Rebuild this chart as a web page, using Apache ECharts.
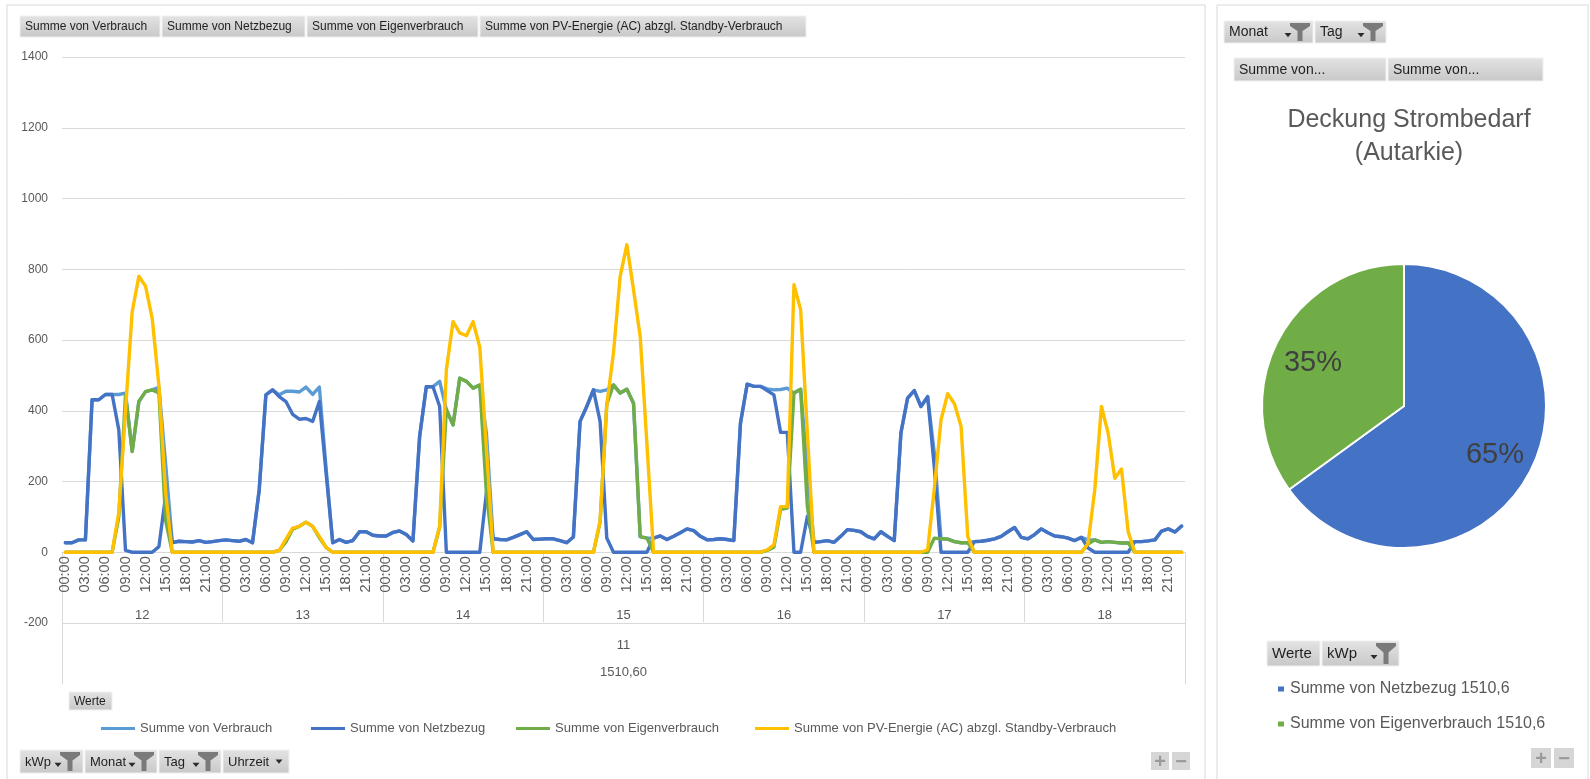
<!DOCTYPE html>
<html>
<head>
<meta charset="utf-8">
<script src="https://cdn.jsdelivr.net/npm/echarts@6/dist/echarts.min.js"></script>
<style>
  html, body { margin: 0; padding: 0; background: #ffffff; }
  #main { width: 1590px; height: 779px; }
</style>
</head>
<body>
<div id="main"></div>
<script>
// ---- data -------------------------------------------------------------
const days = ['12', '13', '14', '15', '16', '17', '18'];
const hours = ['00:00', '01:00', '02:00', '03:00', '04:00', '05:00', '06:00', '07:00',
               '08:00', '09:00', '10:00', '11:00', '12:00', '13:00', '14:00', '15:00',
               '16:00', '17:00', '18:00', '19:00', '20:00', '21:00', '22:00', '23:00'];
const monthLabel = '11';
const kwpLabel = '1510,60';
const yTicks = [-200, 0, 200, 400, 600, 800, 1000, 1200, 1400];

const seriesNames = [
  'Summe von Verbrauch',
  'Summe von Netzbezug',
  'Summe von Eigenverbrauch',
  'Summe von PV-Energie (AC) abzgl. Standby-Verbrauch'
];

// hourly values, one row per day (12 .. 18)
const verbrauch = [
  27, 27, 35, 35, 431, 431, 446, 446, 446, 450, 285, 426, 454, 459, 466, 250, 27, 31, 30, 29, 33, 28, 30, 33,
  35, 33, 31, 36, 27, 176, 445, 459, 445, 455, 455, 453, 467, 446, 467, 239, 27, 36, 28, 33, 58, 58, 48, 46,
  46, 56, 60, 50, 32, 327, 468, 468, 483, 403, 360, 492, 483, 464, 473, 335, 38, 36, 35, 42, 50, 58, 36, 37,
  38, 38, 33, 27, 43, 370, 412, 459, 455, 459, 473, 450, 461, 421, 44, 40, 40, 46, 36, 45, 55, 66, 61, 45,
  35, 36, 38, 36, 33, 365, 475, 469, 469, 462, 459, 460, 464, 450, 461, 231, 28, 30, 33, 28, 45, 64, 62, 58,
  45, 38, 58, 45, 33, 337, 436, 457, 412, 440, 280, 38, 37, 30, 27, 27, 30, 31, 34, 38, 45, 58, 70, 42,
  38, 50, 66, 55, 46, 44, 40, 33, 42, 35, 35, 28, 30, 28, 26, 26, 30, 30, 32, 35, 60, 66, 57, 74
];
const netzbezug = [
  27, 27, 35, 35, 431, 431, 446, 446, 346, 5, 0, 0, 0, 0, 16, 160, 27, 31, 30, 29, 33, 28, 30, 33,
  35, 33, 31, 36, 27, 176, 445, 459, 440, 426, 390, 376, 378, 370, 426, 225, 27, 36, 28, 33, 58, 58, 48, 46,
  46, 56, 60, 50, 32, 327, 468, 468, 412, 0, 0, 0, 0, 0, 0, 170, 38, 36, 35, 42, 50, 58, 36, 37,
  38, 38, 33, 27, 43, 370, 412, 459, 370, 40, 0, 0, 0, 0, 0, 0, 40, 46, 36, 45, 55, 66, 61, 45,
  35, 36, 38, 36, 33, 365, 475, 469, 469, 457, 445, 339, 339, 0, 0, 101, 28, 30, 33, 28, 45, 64, 62, 58,
  45, 38, 58, 45, 33, 337, 436, 457, 412, 440, 240, 0, 0, 0, 0, 0, 30, 31, 34, 38, 45, 58, 70, 42,
  38, 50, 66, 55, 46, 44, 40, 33, 42, 12, 0, 0, 0, 0, 0, 0, 30, 30, 32, 35, 60, 66, 57, 74
];
const eigenverbrauch = [
  0, 0, 0, 0, 0, 0, 0, 0, 100, 445, 285, 426, 454, 459, 450, 90, 0, 0, 0, 0, 0, 0, 0, 0,
  0, 0, 0, 0, 0, 0, 0, 0, 5, 29, 65, 73, 85, 73, 41, 14, 0, 0, 0, 0, 0, 0, 0, 0,
  0, 0, 0, 0, 0, 0, 0, 0, 71, 403, 360, 492, 483, 464, 473, 165, 0, 0, 0, 0, 0, 0, 0, 0,
  0, 0, 0, 0, 0, 0, 0, 0, 85, 419, 473, 450, 461, 421, 44, 40, 0, 0, 0, 0, 0, 0, 0, 0,
  0, 0, 0, 0, 0, 0, 0, 0, 0, 5, 14, 121, 125, 450, 461, 130, 0, 0, 0, 0, 0, 0, 0, 0,
  0, 0, 0, 0, 0, 0, 0, 0, 0, 0, 40, 38, 37, 30, 27, 27, 0, 0, 0, 0, 0, 0, 0, 0,
  0, 0, 0, 0, 0, 0, 0, 0, 0, 23, 35, 28, 30, 28, 26, 26, 0, 0, 0, 0, 0, 0, 0, 0
];
const pvEnergie = [
  0, 0, 0, 0, 0, 0, 0, 0, 113, 400, 680, 780, 752, 660, 470, 170, 0, 0, 0, 0, 0, 0, 0, 0,
  0, 0, 0, 0, 0, 0, 0, 0, 5, 37, 68, 73, 85, 73, 45, 14, 0, 0, 0, 0, 0, 0, 0, 0,
  0, 0, 0, 0, 0, 0, 0, 0, 73, 516, 652, 620, 612, 652, 580, 290, 0, 0, 0, 0, 0, 0, 0, 0,
  0, 0, 0, 0, 0, 0, 0, 0, 88, 417, 563, 780, 869, 742, 610, 308, 0, 0, 0, 0, 0, 0, 0, 0,
  0, 0, 0, 0, 0, 0, 0, 0, 0, 7, 21, 129, 129, 756, 686, 340, 0, 0, 0, 0, 0, 0, 0, 0,
  0, 0, 0, 0, 0, 0, 0, 0, 0, 7, 180, 374, 448, 420, 356, 44, 0, 0, 0, 0, 0, 0, 0, 0,
  0, 0, 0, 0, 0, 0, 0, 0, 0, 25, 176, 412, 337, 209, 235, 58, 0, 0, 0, 0, 0, 0, 0, 0
];

// share of demand covered by grid vs. own PV (percent)
const autarkieNames = ['Summe von Netzbezug 1510,6', 'Summe von Eigenverbrauch 1510,6'];
const autarkieValues = [65, 35];

// ---- styling ----------------------------------------------------------
const FONT = '"Liberation Sans", Arial, sans-serif';
const GRID_GRAY = '#d9d9d9';
const TEXT_GRAY = '#595959';
const lineColors = ['#5B9BD5', '#4472C4', '#70AD47', '#FFC000'];
const pieColors = ['#4472C4', '#70AD47'];

const GRID = { left: 62, top: 57, width: 1123, height: 566 };
const Y_MIN = -200, Y_MAX = 1400;
const zeroOffset = -GRID.height * (0 - Y_MIN) / (Y_MAX - Y_MIN);   // lift category axes to the 0 line

const PIE_CX = 1404, PIE_CY = 406, PIE_R = 142;

const hourCategories = [];
days.forEach(function () { hours.forEach(function (h) { hourCategories.push(h); }); });

const seriesData = [verbrauch, netzbezug, eigenverbrauch, pvEnergie];

// ---- pivot-style buttons ---------------------------------------------
function btnFill() {
  return new echarts.graphic.LinearGradient(0, 0, 0, 1, [
    { offset: 0, color: '#e3e3e3' }, { offset: 1, color: '#c8c8c8' }
  ]);
}
function arrow(ax, ay) {
  return { type: 'polygon', shape: { points: [[ax - 3.5, ay - 2], [ax + 3.5, ay - 2], [ax, ay + 2.2]] },
           style: { fill: '#2b2b2b' } };
}
function pivotButton(x, y, w, h, label, fontSize, kind) {
  const children = [
    { type: 'rect', shape: { x: x, y: y, width: w, height: h }, style: { fill: btnFill(), stroke: '#f0f0f0', lineWidth: 1 } },
    { type: 'text', x: x + 5, y: y + h / 2 + 0.5,
      style: { text: label, fill: '#1f1f1f', font: fontSize + 'px ' + FONT, verticalAlign: 'middle', align: 'left' } }
  ];
  if (kind === 'filter') {
    const fw = 20, fx = x + w - fw - 3, fy = y + 2, fh = h - 4;
    children.push({ type: 'polygon', shape: { points: [
      [fx, fy], [fx + fw, fy], [fx + fw, fy + 3], [fx + 12.5, fy + fh * 0.45], [fx + 12.5, fy + fh],
      [fx + 7.5, fy + fh], [fx + 7.5, fy + fh * 0.45], [fx, fy + 3]] }, style: { fill: '#7a7a7a' } });
    children.push(arrow(fx - 2, y + h * 0.64));
  } else if (kind === 'sort') {
    children.push(arrow(x + w - 10, y + h / 2));
  }
  return { type: 'group', children: children };
}
function plusMinus(x, y, s) {
  const els = [];
  ['+', '\u2212'].forEach(function (sym, i) {
    const bx = x + i * (s + 3);
    els.push({ type: 'rect', shape: { x: bx, y: y, width: s, height: s }, style: { fill: '#d6d6d6' } });
    els.push({ type: 'text', x: bx + s / 2, y: y + s / 2 + 1,
      style: { text: sym, fill: '#9a9a9a', font: 'bold 20px ' + FONT, align: 'center', verticalAlign: 'middle' } });
  });
  return { type: 'group', children: els };
}

const graphics = [
  // panel frames
  { type: 'rect', shape: { x: 7, y: 5, width: 1198, height: 800 }, style: { fill: 'none', stroke: GRID_GRAY, lineWidth: 1 } },
  { type: 'rect', shape: { x: 1217, y: 5, width: 371, height: 800 }, style: { fill: 'none', stroke: GRID_GRAY, lineWidth: 1 } },
  // value field buttons above the line chart
  pivotButton(20, 16, 140, 21, seriesNames[0], 12),
  pivotButton(162, 16, 143, 21, seriesNames[1], 12),
  pivotButton(307, 16, 171, 21, seriesNames[2], 12),
  pivotButton(480, 16, 326, 21, seriesNames[3], 12),
  pivotButton(69, 692, 43, 18, 'Werte', 12),
  // axis field buttons
  pivotButton(20, 750, 63, 23, 'kWp', 13, 'filter'),
  pivotButton(85, 750, 72, 23, 'Monat', 13, 'filter'),
  pivotButton(159, 750, 62, 23, 'Tag', 13, 'filter'),
  pivotButton(223, 750, 66, 23, 'Uhrzeit', 13, 'sort'),
  plusMinus(1151, 752, 18),
  // right panel
  pivotButton(1224, 21, 89, 22, 'Monat', 14, 'filter'),
  pivotButton(1315, 21, 71, 22, 'Tag', 14, 'filter'),
  pivotButton(1234, 58, 152, 23, 'Summe von...', 14),
  pivotButton(1388, 58, 155, 23, 'Summe von...', 14),
  pivotButton(1267, 641, 53, 25, 'Werte', 15),
  pivotButton(1322, 641, 77, 25, 'kWp', 15, 'filter'),
  plusMinus(1531, 748, 20)
];

const legendLeft = [101, 311, 516, 755];

function levelAxis(data, margin, tickLength, extra) {
  return Object.assign({
    type: 'category', data: data, position: 'bottom', offset: zeroOffset,
    axisLine: { show: false, onZero: false },
    axisTick: tickLength ? { show: true, interval: 0, length: tickLength, lineStyle: { color: GRID_GRAY } } : { show: false },
    axisLabel: { color: TEXT_GRAY, fontSize: 13, margin: margin, fontFamily: FONT },
    splitLine: { show: false }
  }, extra || {});
}

const option = {
  animation: false,
  backgroundColor: '#ffffff',
  textStyle: { fontFamily: FONT },
  title: {
    text: 'Deckung Strombedarf\n(Autarkie)',
    left: PIE_CX, top: 99, textAlign: 'center',
    textStyle: { fontSize: 25, lineHeight: 33, color: TEXT_GRAY, fontWeight: 'normal', fontFamily: FONT }
  },
  grid: [{ left: GRID.left, top: GRID.top, width: GRID.width, height: GRID.height, containLabel: false }],
  xAxis: [
    // hour level, sitting on the 0 line
    levelAxis(hourCategories, 5, 0, {
      axisLine: { show: true, onZero: false, lineStyle: { color: GRID_GRAY, width: 1 } },
      axisLabel: { rotate: 90, interval: function (i) { return i % 3 === 0; },
                   color: TEXT_GRAY, fontSize: 14.5, margin: 4, fontFamily: FONT }
    }),
    levelAxis(days, 57, 70),          // day level
    levelAxis([monthLabel], 87, 132), // month level
    levelAxis([kwpLabel], 114, 0)     // kWp level
  ],
  yAxis: {
    type: 'value', min: yTicks[0], max: yTicks[yTicks.length - 1], interval: yTicks[1] - yTicks[0],
    axisLine: { show: false }, axisTick: { show: false },
    axisLabel: { color: TEXT_GRAY, fontSize: 12, margin: 14, fontFamily: FONT,
                 formatter: function (v) { return String(v); } },
    splitLine: { lineStyle: { color: GRID_GRAY, width: 1 } }
  },
  legend: seriesNames.map(function (n, i) {
    return {
      data: [n], left: legendLeft[i], top: 722, padding: 0, icon: 'rect',
      itemWidth: 34, itemHeight: 3, selectedMode: false,
      textStyle: { color: TEXT_GRAY, fontSize: 13, fontFamily: FONT }
    };
  }).concat([{
    data: autarkieNames, orient: 'vertical', left: 1276, top: 681, padding: 0, icon: 'rect',
    itemWidth: 8, itemHeight: 7, itemGap: 19, selectedMode: false,
    textStyle: { color: TEXT_GRAY, fontSize: 16, fontFamily: FONT }
  }]),
  series: seriesNames.map(function (n, i) {
    return {
      name: n, type: 'line', xAxisIndex: 0, yAxisIndex: 0,
      data: seriesData[i], symbol: 'none', smooth: false,
      color: lineColors[i],
      lineStyle: { width: 3.4, color: lineColors[i], join: 'round', cap: 'round' },
      emphasis: { disabled: true }
    };
  }).concat([{
    name: 'Deckung Strombedarf', type: 'pie',
    center: [PIE_CX, PIE_CY], radius: PIE_R, startAngle: 90, clockwise: true,
    data: autarkieNames.map(function (n, i) {
      return { name: n, value: autarkieValues[i], itemStyle: { color: pieColors[i] } };
    }),
    itemStyle: { borderColor: '#ffffff', borderWidth: 2 },
    label: { show: true, position: 'inside', color: '#404040', fontSize: 29, fontFamily: FONT,
             formatter: function (p) { return Math.round(p.percent) + '%'; } },
    labelLine: { show: false },
    labelLayout: function (p) {
      const r = p.labelRect;
      const lx = r.x + r.width / 2, ly = r.y + r.height / 2;
      const k = 1.38;
      return { x: PIE_CX + (lx - PIE_CX) * k, y: PIE_CY + (ly - PIE_CY) * k + 3, align: 'center', verticalAlign: 'middle' };
    },
    emphasis: { disabled: true }
  }]),
  graphic: graphics
};

const chart = echarts.init(document.getElementById('main'), null, { renderer: 'canvas' });
chart.setOption(option);
</script>
</body>
</html>
